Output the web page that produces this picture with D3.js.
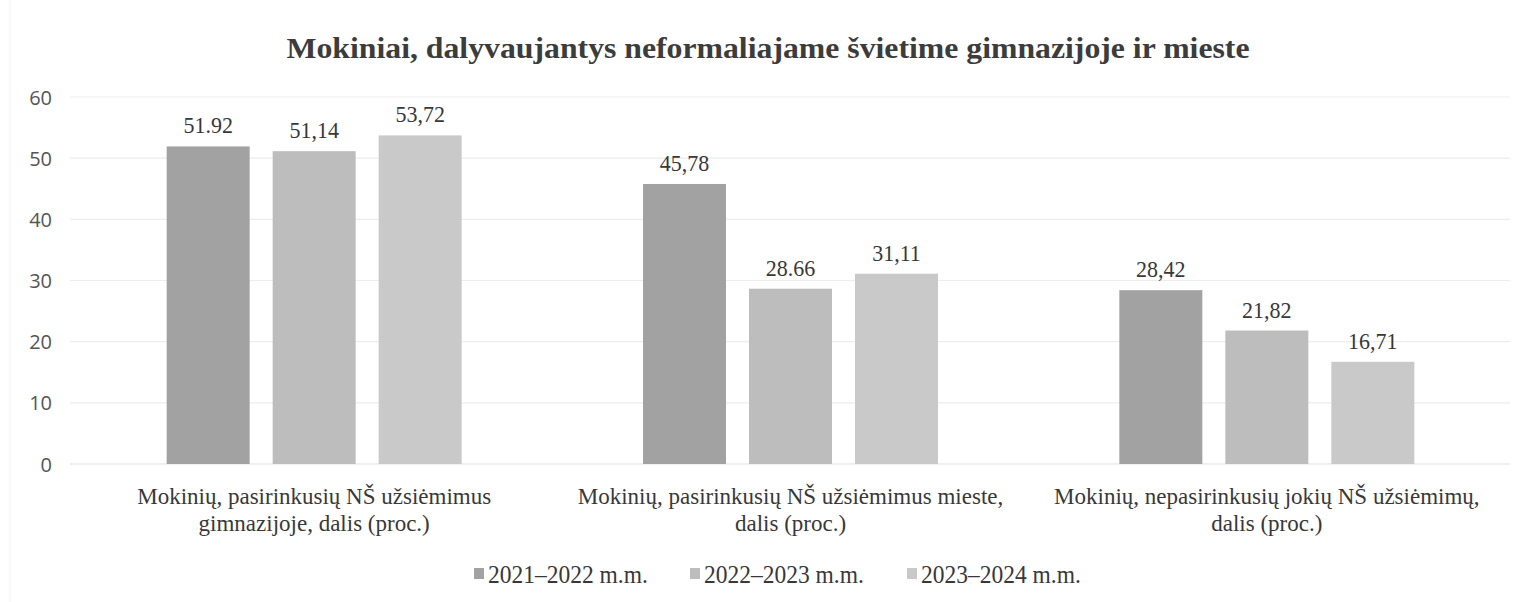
<!DOCTYPE html>
<html><head><meta charset="utf-8">
<script src="https://cdn.jsdelivr.net/npm/d3@7"></script>
<style>body{margin:0;background:#fff}</style>
</head><body>
<svg id="c" width="1513" height="602"></svg>
<script>
const title = "Mokiniai, dalyvaujantys neformaliajame švietime gimnazijoje ir mieste";
const categories = [
  ["Mokinių, pasirinkusių NŠ užsiėmimus", "gimnazijoje, dalis (proc.)"],
  ["Mokinių, pasirinkusių NŠ užsiėmimus mieste,", "dalis (proc.)"],
  ["Mokinių, nepasirinkusių jokių NŠ užsiėmimų,", "dalis (proc.)"]
];
const seriesNames = ["2021–2022 m.m.", "2022–2023 m.m.", "2023–2024 m.m."];
const s2021 = [51.92, 45.78, 28.42];
const s2022 = [51.14, 28.66, 21.82];
const s2023 = [53.72, 31.11, 16.71];
const labels2021 = ["51.92", "45,78", "28,42"];
const labels2022 = ["51,14", "28.66", "21,82"];
const labels2023 = ["53,72", "31,11", "16,71"];
const yTicks = [0, 10, 20, 30, 40, 50, 60];
const colors = ["#a2a2a2", "#bdbdbd", "#c9c9c9"];

const series = [s2021, s2022, s2023];
const seriesLabels = [labels2021, labels2022, labels2023];
const serif = "'Liberation Serif', 'Times New Roman', serif";

const svg = d3.select("#c");
const x0 = d3.scaleBand().domain(d3.range(categories.length)).range([76, 1505]).paddingInner(0).paddingOuter(0);
const y = d3.scaleLinear().domain([0, 60]).range([464, 97]);
const groupW = 295;
const x1 = d3.scaleBand().domain(d3.range(3)).range([0, groupW]).paddingInner(0.217).paddingOuter(0);

function stext(parent, x, yy, str, size, sy, anchor, extra) {
  const g = parent.append("g").attr("transform", `translate(${x},${yy}) scale(1,${sy})`);
  const t = g.append("text").attr("x", 0).attr("y", 0)
    .attr("text-anchor", anchor || "middle")
    .attr("font-family", serif).attr("font-size", size).attr("fill", "#383838").text(str);
  if (extra) extra(t);
  return t;
}

// faint left border
svg.append("line").attr("x1", 10).attr("x2", 10).attr("y1", 0).attr("y2", 602).attr("stroke", "#f2f2f2");

// gridlines
svg.append("g").selectAll("line").data(yTicks).join("line")
  .attr("x1", 70).attr("x2", 1510)
  .attr("y1", d => y(d)).attr("y2", d => y(d))
  .attr("stroke", d => d === 0 ? "#e0e0e0" : "#ededed").attr("stroke-width", 1.2);

// y axis labels
const yAxis = d3.axisLeft(y).tickValues(yTicks).tickSize(0).tickPadding(0);
const ga = svg.append("g").attr("transform", "translate(52,0)").call(yAxis);
ga.select(".domain").remove();
ga.selectAll("text").attr("font-family", "'Open Sans', 'Noto Sans', sans-serif")
  .attr("font-size", 20).attr("fill", "#555").attr("dy", "0.35em");

// title
stext(svg, 768, 58, title, 26, 1.15, "middle", t => t.attr("font-weight", "bold").attr("fill", "#3c3c3c")
  .attr("textLength", 963).attr("lengthAdjust", "spacingAndGlyphs"));

// bars
const groups = svg.append("g").selectAll("g").data(categories).join("g")
  .attr("transform", (d, i) => `translate(${x0(i) + x0.bandwidth() / 2 - groupW / 2},0)`);

groups.each(function(cat, ci) {
  const g = d3.select(this);
  series.forEach((s, si) => {
    g.append("rect")
      .attr("x", x1(si)).attr("width", x1.bandwidth())
      .attr("y", y(s[ci])).attr("height", y(0) - y(s[ci]))
      .attr("fill", colors[si]);
    stext(g, x1(si) + x1.bandwidth() / 2, y(s[ci]) - 13, seriesLabels[si][ci], 22, 1.08, "middle");
  });
});

// category labels
categories.forEach((d, i) => {
  d.forEach((line, li) => {
    stext(svg, x0(i) + x0.bandwidth() / 2, 504 + li * 26.5, line, 23, 1, "middle");
  });
});

// legend
const legX = [474, 690, 907];
seriesNames.forEach((name, i) => {
  svg.append("rect").attr("x", legX[i]).attr("y", 568).attr("width", 10).attr("height", 11)
    .attr("fill", colors[i]);
  stext(svg, legX[i] + 14, 583, name, 23.5, 1.05, "start");
});
</script>
</body></html>
